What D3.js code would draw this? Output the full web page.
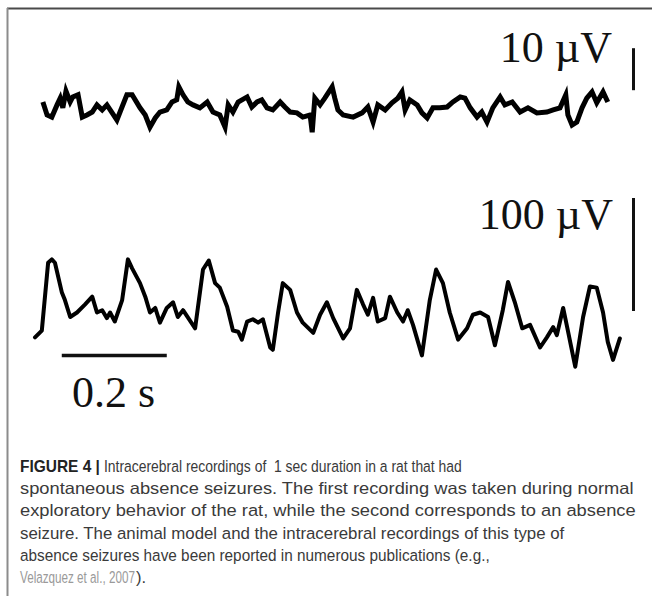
<!DOCTYPE html>
<html>
<head>
<meta charset="utf-8">
<script src="https://cdn.jsdelivr.net/npm/d3@7"></script>
<style>
  body { margin: 0; background: #fff; }
  svg { display: block; }
</style>
</head>
<body>
<svg id="fig"></svg>
<script>
// recordings: time in ms, potential in µV

// normal exploratory behaviour (top trace)
const normalT = [15, 23, 32, 42, 48, 53, 59, 67, 72, 82, 90, 99, 109, 118, 128, 137, 147, 156, 162, 175,
  185, 200, 210, 219, 229, 238, 251, 261, 270, 274, 282, 291, 301, 314, 328, 339, 352, 362, 368, 377,
  387, 404, 413, 423, 432, 442, 453, 467, 476, 486, 499, 510, 524, 528, 533, 543, 552, 566, 571, 577,
  587, 606, 623, 634, 644, 653, 667, 680, 691, 699, 705, 714, 728, 737, 747, 758, 771, 785, 796, 810,
  819, 829, 842, 851, 861, 872, 886, 895, 909, 924, 939, 956, 975, 987, 1000, 1011, 1015, 1023, 1032,
  1042, 1051, 1061, 1070, 1082, 1091];
const normalV = [1.2, -1.9, -2.4, 0.5, 2.1, -0.2, 3.8, 1.2, 2.4, 2.9, -2.4, -1.9, -1.2, 0.5, -0.7, 0.5,
  -1.4, -3.1, -1.2, 2.9, 2.9, -0.2, -1.9, -4.8, -2.6, -1.2, -0.7, 1.2, 1.7, 4.8, 2.9, 1.2, 0.5, -0.2,
  1.2, -1.2, -1.9, -4.8, 0.5, -1.2, 1.2, 2.4, 0, 1.2, 1.7, -0.2, -0.7, 1.2, 0, -1.2, -1.4, -2.4, -1.9,
  -6, 2.1, 0.5, 2.1, 4.8, 2.1, -0.7, -1.9, -2.4, -1.4, 0, -3.6, 0.5, -0.7, 1, 2.1, 3.6, -0.7, 1.7, 0.5,
  -1.4, -2.6, -0.2, -0.2, 0, 1.2, 2.4, 2.1, -0.2, -2.4, -1.2, -3.6, -0.2, 2.4, 0.5, 1.2, -1.2, -0.2,
  -1.4, -1.2, -0.7, -0.2, 2.9, -1.9, -4.3, -3.6, -0.2, 2.1, 3.6, 1, 3.6, 1.2];

// absence seizure (bottom trace)
const seizureT = [0, 13, 25, 32, 38, 51, 57, 67, 80, 95, 109, 118, 128, 137, 143, 152, 166, 177, 185,
  200, 210, 219, 229, 238, 251, 263, 272, 282, 305, 320, 331, 343, 352, 366, 377, 387, 394, 404, 415,
  425, 434, 448, 453, 463, 472, 486, 499, 510, 530, 543, 556, 568, 587, 600, 613, 625, 634, 644, 653,
  667, 676, 690, 701, 710, 720, 737, 752, 764, 777, 790, 806, 823, 834, 848, 863, 876, 891, 901, 914,
  928, 943, 962, 975, 987, 994, 1006, 1015, 1029, 1044, 1057, 1070, 1082, 1091, 1101, 1114];
const seizureV = [-18, -12, 48, 51, 48, 22, 15, 0, 4, 11, 18, 4, 6, -1, 4, -4, 15, 51, 43, 30, 18, 4,
  8, -5, 8, 13, 0, 6, -10, 42, 50, 30, 26, 9, -12, -13, -20, -4, -2, -5, -2, -27, -29, 4, 30, 24, 4,
  -5, -14, 2, 13, -1, -19, -10, 24, 11, 2, 17, -4, -1, 18, 4, -4, 6, -7, -34, 15, 42, 30, 4, -20, -10,
  2, 4, 0, -25, 6, 31, 13, -10, -7, -27, -18, -9, -16, 8, -12, -44, 0, 27, 26, 4, -22, -38, -19];

// scale bars: [start, end]
const timeBar = [51, 251]; // 0.2 s
const normalBar = [4, 14]; // 10 µV
const seizureBar = [5.3, 105.3]; // 100 µV
const barTime = 1140;

const labels = { time: '0.2 s', normal: '10 µV', seizure: '100 µV' };

const captionHead = 'FIGURE 4 |';
const captionLines = [
  'Intracerebral recordings of  1 sec duration in a rat that had',
  'spontaneous absence seizures. The first recording was taken during normal',
  'exploratory behavior of the rat, while the second corresponds to an absence',
  'seizure. The animal model and the intracerebral recordings of this type of',
  'absence seizures have been reported in numerous publications (e.g.,',
  'Velazquez et al., 2007',
];
const captionTail = ').';
const captionStarts = [104, 20, 20, 20, 20, 20];
const captionEnds = [462, 634, 636, 565, 490, 135];

const W = 652;
const H = 596;
const svg = d3.select('#fig').attr('width', W).attr('height', H);

// frame of the figure panel
svg.append('line').attr('x1', 7).attr('x2', W).attr('y1', 8.5).attr('y2', 8.5)
  .style('stroke', '#4a4a4a').style('stroke-width', 2);
svg.append('line').attr('x1', 7.5).attr('x2', 7.5).attr('y1', 8).attr('y2', H)
  .style('stroke', '#8c8c8c').style('stroke-width', 2);

// scales
const x = d3.scaleLinear().domain([0, 1000]).range([35, 560]);
const yNormal = d3.scaleLinear().domain([0, 10]).range([107, 65]);
const ySeizure = d3.scaleLinear().domain([0, 100]).range([317, 204]);

const normalData = normalT.map((t, i) => ({ t, v: normalV[i] }));
const seizureData = seizureT.map((t, i) => ({ t, v: seizureV[i] }));

svg.append('path')
  .datum(normalData)
  .attr('d', d3.line().x((d) => x(d.t)).y((d) => yNormal(d.v)))
  .style('fill', 'none')
  .style('stroke', '#000')
  .style('stroke-width', 5)
  .style('stroke-linejoin', 'miter');

svg.append('path')
  .datum(seizureData)
  .attr('d', d3.line().x((d) => x(d.t)).y((d) => ySeizure(d.v)))
  .style('fill', 'none')
  .style('stroke', '#000')
  .style('stroke-width', 4)
  .style('stroke-linejoin', 'round')
  .style('stroke-linecap', 'round');

// vertical scale bars
svg.append('line')
  .attr('x1', x(barTime)).attr('x2', x(barTime))
  .attr('y1', yNormal(normalBar[0])).attr('y2', yNormal(normalBar[1]))
  .style('stroke', '#111').style('stroke-width', 3);
svg.append('line')
  .attr('x1', x(barTime)).attr('x2', x(barTime))
  .attr('y1', ySeizure(seizureBar[0])).attr('y2', ySeizure(seizureBar[1]))
  .style('stroke', '#111').style('stroke-width', 3);

// horizontal time bar
svg.append('line')
  .attr('x1', x(timeBar[0])).attr('x2', x(timeBar[1]))
  .attr('y1', 355.5).attr('y2', 355.5)
  .style('stroke', '#111').style('stroke-width', 3.5);

const serif = '"Liberation Serif", "DejaVu Serif", serif';
svg.append('text')
  .attr('x', 612).attr('y', 62)
  .attr('text-anchor', 'end')
  .style('font-family', serif).style('font-size', '44px').style('fill', '#111')
  .text(labels.normal);
svg.append('text')
  .attr('x', 613).attr('y', 229)
  .attr('text-anchor', 'end')
  .style('font-family', serif).style('font-size', '44px').style('fill', '#111')
  .text(labels.seizure);
svg.append('text')
  .attr('x', 72).attr('y', 407)
  .style('font-family', serif).style('font-size', '44px').style('fill', '#111')
  .text(labels.time);

// caption: each run is squeezed horizontally to the width it has in the figure
const sans = '"Liberation Sans", Arial, sans-serif';
const lineY = (i) => 472 + i * 22.2;

function fitText(str, x0, x1, y, color, bold) {
  const g = svg.append('g');
  const t = g.append('text')
    .style('white-space', 'pre')
    .style('font-family', sans)
    .style('font-size', '16.5px')
    .style('font-weight', bold ? 'bold' : 'normal')
    .style('fill', color)
    .text(str);
  const sx = (x1 - x0) / t.node().getComputedTextLength();
  g.attr('transform', `translate(${x0},${y}) scale(${sx},1)`);
}

fitText(captionHead, 20, 100, lineY(0), '#222', true);
captionLines.forEach((line, i) => {
  fitText(line, captionStarts[i], captionEnds[i], lineY(i), i === 5 ? '#9a9a9a' : '#3a3a3a', false);
});
svg.append('text')
  .attr('x', captionEnds[5] + 1).attr('y', lineY(5))
  .style('font-family', sans).style('font-size', '16.5px').style('fill', '#3a3a3a')
  .text(captionTail);
</script>
</body>
</html>
